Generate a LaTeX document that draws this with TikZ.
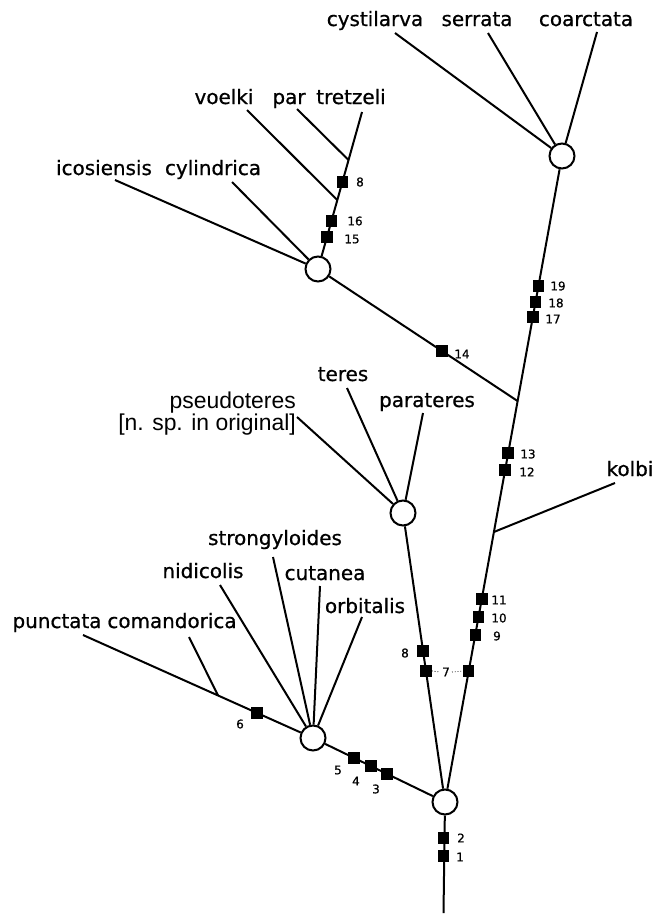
\documentclass[tikz,border=0pt]{standalone}
\usepackage{fontspec}
\setmainfont{DejaVu Sans}[FakeBold=0.8]
\newfontfamily\arialf{Liberation Sans}
\usetikzlibrary{calc}
\begin{document}
\begin{tikzpicture}[x=1bp,y=-1bp,
  br/.style={line width=2bp},
  hub/.style={circle,draw,line width=2bp,fill=white,minimum size=25bp,inner sep=0pt},
  sq/.style={rectangle,fill=black,minimum size=11.5bp,inner sep=0pt},
  num/.style={font=\fontsize{12}{14}\selectfont,inner sep=0pt},
  lab/.style={font=\fontsize{20}{24}\selectfont,inner sep=0pt,anchor=base},
  alab/.style={font=\arialf\fontsize{23}{27}\selectfont,inner sep=0pt,anchor=base east},
]
\useasboundingbox (0,0) rectangle (661,914);
\fill[white] (0,0) rectangle (661,914);

% hubs
\node[hub] (R) at (445,802) {};
\node[hub] (L) at (313,738) {};
\node[hub] (P) at (403,513) {};
\node[hub] (I) at (318,269) {};
\node[hub] (C) at (562,156) {};

% free ends and junctions
\coordinate (base) at (443.5,913);
\coordinate (eCyst) at (395,33);
\coordinate (eSerr) at (488,33);
\coordinate (eCoar) at (597,32);
\coordinate (eVoel) at (247,110);
\coordinate (ePar) at (297,109);
\coordinate (eTret) at (362,112);
\coordinate (eIcos) at (115,180);
\coordinate (eCyli) at (232,182);
\coordinate (ePseu) at (297,417);
\coordinate (eTere) at (347,388);
\coordinate (ePara) at (423,413);
\coordinate (eKolb) at (615,483);
\coordinate (eStro) at (273,557);
\coordinate (eNidi) at (220,585);
\coordinate (eCuta) at (320,586);
\coordinate (eOrbi) at (362,617);
\coordinate (ePunc) at (83,635);
\coordinate (eComa) at (189,637);

\coordinate (jK) at ($(R)!0.418!(C)$);
\coordinate (jI) at ($(R)!0.6207!(C)$);
\coordinate (jC) at ($(L)!0.413!(ePunc)$);
\coordinate (jV) at ($(I)!0.439!(eTret)$);
\coordinate (jP) at ($(I)!0.694!(eTret)$);

% branches
\draw[br] (base) -- (R);
\draw[br] (R) -- (C);
\draw[br] (R) -- (P);
\draw[br] (R) -- (L);
\draw[br] (jK) -- (eKolb);
\draw[br] (jI) -- (I);
\draw[br] (C) -- (eCyst);
\draw[br] (C) -- (eSerr);
\draw[br] (C) -- (eCoar);
\draw[br] (I) -- (eTret);
\draw[br] (jV) -- (eVoel);
\draw[br] (jP) -- (ePar);
\draw[br] (I) -- (eIcos);
\draw[br] (I) -- (eCyli);
\draw[br] (P) -- (ePseu);
\draw[br] (P) -- (eTere);
\draw[br] (P) -- (ePara);
\draw[br] (L) -- (ePunc);
\draw[br] (jC) -- (eComa);
\draw[br] (L) -- (eNidi);
\draw[br] (L) -- (eStro);
\draw[br] (L) -- (eCuta);
\draw[br] (L) -- (eOrbi);

% character squares
\node[sq] (s1) at (443.5,856) {};
\node[sq] (s2) at (443.5,838) {};
\node[sq] (s3) at ($(R)!0.4394!(L)$) {};
\node[sq] (s4) at ($(R)!0.5606!(L)$) {};
\node[sq] (s5) at ($(R)!0.6894!(L)$) {};
\node[sq] (s6) at ($(L)!0.2435!(ePunc)$) {};
\node[sq] (s7L) at ($(R)!0.4533!(P)$) {};
\node[sq] (s8m) at ($(R)!0.5225!(P)$) {};
\node[sq] (s7R) at ($(R)!0.2028!(C)$) {};
\node[sq] (s9) at ($(R)!0.2585!(C)$) {};
\node[sq] (s10) at ($(R)!0.2864!(C)$) {};
\node[sq] (s11) at ($(R)!0.3142!(C)$) {};
\node[sq] (s12) at ($(R)!0.5139!(C)$) {};
\node[sq] (s13) at ($(R)!0.5402!(C)$) {};
\node[sq] (s17) at ($(R)!0.7508!(C)$) {};
\node[sq] (s18) at ($(R)!0.774!(C)$) {};
\node[sq] (s19) at ($(R)!0.7988!(C)$) {};
\node[sq] (s14) at ($(jI)!0.38!(I)$) {};
\node[sq] (s15) at ($(I)!0.204!(eTret)$) {};
\node[sq] (s16) at ($(I)!0.306!(eTret)$) {};
\node[sq] (s8u) at ($(I)!0.554!(eTret)$) {};

% character numbers
\node[num] (n1) at (460,857) {1};
\node[num] (n2) at (461,838) {2};
\node[num] (n3) at (376,789) {3};
\node[num] (n4) at (356,781) {4};
\node[num] (n5) at (338,770) {5};
\node[num] (n6) at (240,724) {6};
\node[num,inner sep=2bp] (n7) at (446,672) {7};
\node[num] (n8m) at (405,653) {8};
\node[num] (n9) at (497,636) {9};
\node[num] (n10) at (499,618) {10};
\node[num] (n11) at (499,600) {11};
\node[num] (n12) at (527,472) {12};
\node[num] (n13) at (528,454) {13};
\node[num] (n14) at (462,354) {14};
\node[num] (n15) at (352,239) {15};
\node[num] (n16) at (355,221) {16};
\node[num] (n8u) at (360,182) {8};
\node[num] (n17) at (553,319) {17};
\node[num] (n18) at (556,303) {18};
\node[num] (n19) at (558,286) {19};
\draw[dotted,line width=0.8bp] (s7L.east) -- (n7.west);
\draw[dotted,line width=0.8bp] (n7.east) -- (s7R.west);

% taxon names
\node[lab] (tCyst) at (375,26) {cystilarva};
\node[lab] (tSerr) at (477,26) {serrata};
\node[lab] (tCoar) at (586,26) {coarctata};
\node[lab] (tVoel) at (224,104) {voelki};
\node[lab] (tPar) at (289,104) {par};
\node[lab] (tTret) at (351,104) {tretzeli};
\node[lab] (tIcos) at (104,175) {icosiensis};
\node[lab] (tCyli) at (213,175) {cylindrica};
\node[lab] (tTere) at (343,381) {teres};
\node[alab] (tPseu) at (296,408) {pseudoteres};
\node[alab] (tNsp) at (296,430) {[n. sp. in original]};
\node[lab] (tPara) at (427,407) {parateres};
\node[lab] (tKolb) at (630,476) {kolbi};
\node[lab] (tStro) at (275,545) {strongyloides};
\node[lab] (tNidi) at (203,578) {nidicolis};
\node[lab] (tCuta) at (325,580) {cutanea};
\node[lab] (tOrbi) at (365,613) {orbitalis};
\node[lab] (tPunc) at (57,628) {punctata};
\node[lab] (tComa) at (172,628) {comandorica};
\end{tikzpicture}
\end{document}
